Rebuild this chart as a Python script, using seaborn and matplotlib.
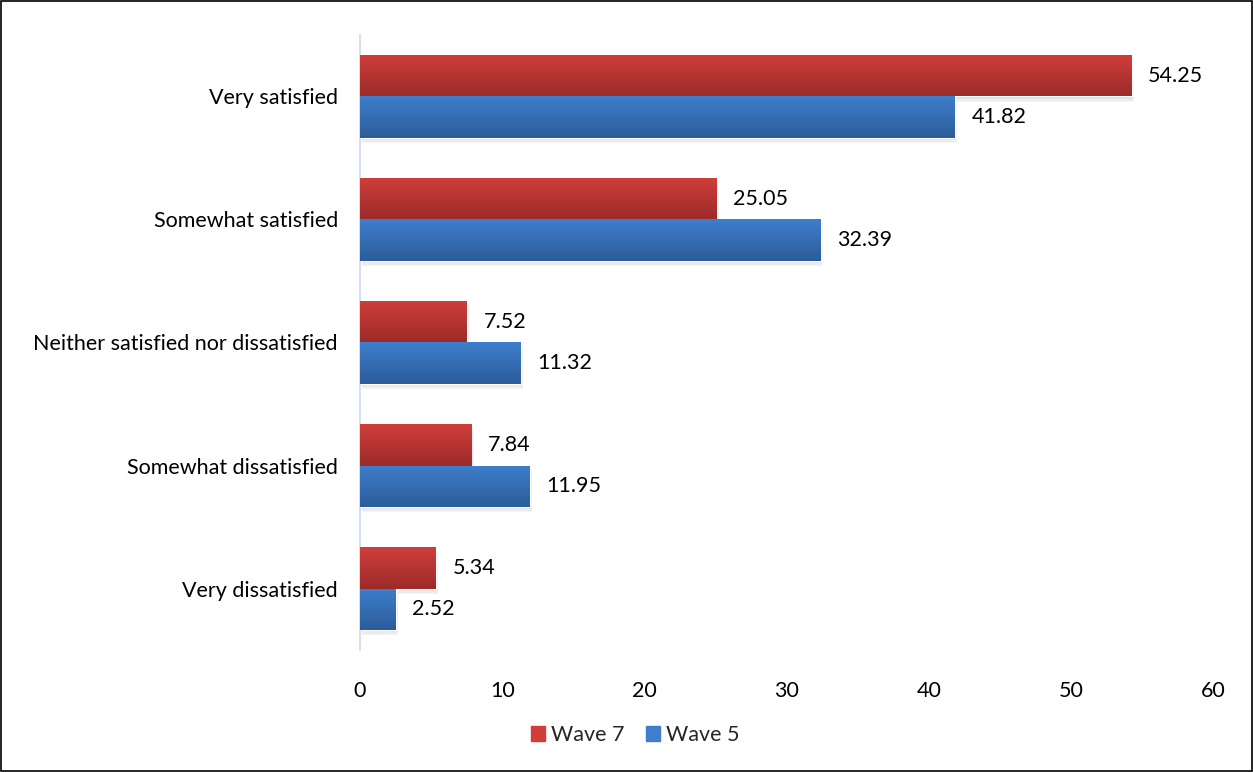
import numpy as np
import pandas as pd
import matplotlib
matplotlib.use("Agg")
import matplotlib.pyplot as plt
import seaborn as sns
from matplotlib.colors import LinearSegmentedColormap
from matplotlib.patches import Rectangle

categories = ["Very satisfied", "Somewhat satisfied", "Neither satisfied nor dissatisfied",
              "Somewhat dissatisfied", "Very dissatisfied"]
wave7 = [54.25, 25.05, 7.52, 7.84, 5.34]
wave5 = [41.82, 32.39, 11.32, 11.95, 2.52]
series = ["Wave 7", "Wave 5"]

df = pd.DataFrame({
    "category": categories * 2,
    "value": wave7 + wave5,
    "wave": [series[0]] * len(categories) + [series[1]] * len(categories),
})

sns.set_style("white")
plt.rcParams['font.family'] = ['Lato', 'DejaVu Sans']
fs = 15.5

colors = {"Wave 7": "#C0392F", "Wave 5": "#3670BD"}
grads = {"Wave 7": ("#D03E3A", "#9C2B2A"), "Wave 5": ("#3E7ECC", "#2C5C9A")}

fig = plt.figure(figsize=(12.53, 7.72), dpi=100)
ax = fig.add_axes([0.2873, 0.158, 0.681, 0.7967])
sns.barplot(data=df, y="category", x="value", hue="wave", order=categories,
            hue_order=series, palette=colors, orient="h", width=0.667,
            ax=ax, legend=False, saturation=1)

# gradient fill + soft shadow on each bar
for container, name in zip(ax.containers, series):
    top, bottom = grads[name]
    cmap = LinearSegmentedColormap.from_list(name, [top, bottom])
    for bar in container:
        x0, y0 = bar.get_x(), bar.get_y()
        w, h = bar.get_width(), bar.get_height()
        for k in range(1, 5):
            ax.add_patch(Rectangle((x0 + 0.04 * k, y0 + 0.012 * k), w, h,
                                   color="#777777", alpha=0.07, zorder=1, lw=0))
        bar.set_zorder(2)
        im = ax.imshow(np.linspace(0, 1, 64).reshape(-1, 1), cmap=cmap,
                       extent=[x0, x0 + w, y0 + h, y0], aspect="auto", zorder=3)
        im.set_clip_path(bar)
    labels = [f"{v:.2f}" for v in container.datavalues]
    ax.bar_label(container, labels=labels, padding=12, fontsize=fs, color="black")

ax.set_xlim(0, 60)
ax.set_xticks(range(0, 61, 10))
ax.set_ylim(len(categories) - 0.5, -0.5)
ax.set_xlabel("")
ax.set_ylabel("")
for s in ["top", "right", "bottom"]:
    ax.spines[s].set_visible(False)
ax.spines["left"].set_color("#D5E0EE")
ax.spines["left"].set_linewidth(1.5)
ax.tick_params(axis="both", length=0, labelsize=fs, colors="black")
ax.tick_params(axis="x", pad=22)
ax.tick_params(axis="y", pad=16)

handles = [Rectangle((0, 0), 1, 1, color=grads[s][0]) for s in series]
fig.legend(handles, series, loc="center", bbox_to_anchor=(0.507, 0.048), ncol=2,
           frameon=False, fontsize=fs, handlelength=0.65, handleheight=0.65,
           handletextpad=0.3, columnspacing=1.0)

fig.patches.append(Rectangle((0.001, 0.001), 0.998, 0.998, transform=fig.transFigure,
                             fill=False, edgecolor="black", lw=1.2))

fig.savefig("out.png", dpi=100)
